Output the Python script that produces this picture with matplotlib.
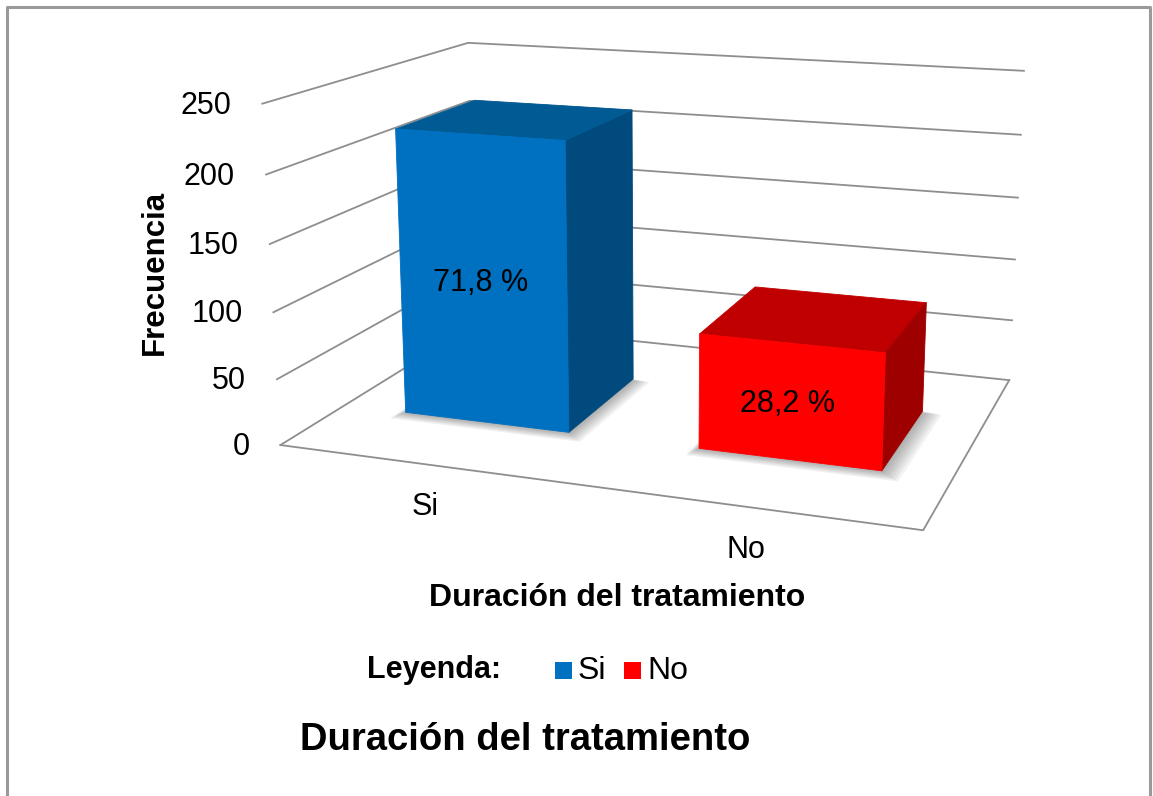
import numpy as np
import matplotlib
matplotlib.use('Agg')
import matplotlib.pyplot as plt
from matplotlib.patches import Rectangle
from matplotlib.lines import Line2D
from mpl_toolkits.mplot3d.art3d import Poly3DCollection

plt.rcParams['font.family'] = ['Liberation Sans', 'DejaVu Sans']

# ---------------- data ----------------
categories = ['Si', 'No']
frequencies = [219, 86]
percent_labels = ['71,8 %', '28,2 %']
z_ticks = [0, 50, 100, 150, 200, 250]
y_label = 'Frecuencia'
x_label = 'Duración del tratamiento'
title = 'Duración del tratamiento'
legend_title = 'Leyenda:'

front_colors = ['#0070C0', '#FF0000']
top_colors = ['#005A94', '#C00000']
side_colors = ['#004A7D', '#9E0000']
grid_color = '#8E8E8E'

W, H = 1153, 796
fig = plt.figure(figsize=(W / 100, H / 100), dpi=100)
ax = fig.add_axes([0, 0, 1, 1], projection='3d')

XMIN, XMAX = -0.5, len(categories) - 0.5
YMIN, YMAX = 0.0, 1.0
ZMAX = z_ticks[-1]
ax.set_xlim(XMIN, XMAX)
ax.set_ylim(YMIN, YMAX)
ax.set_zlim(0, ZMAX)
ax.set_axis_off()
ax.computed_zorder = False


def project(xs, ys, zs):
    M = ax.get_proj()
    vec = np.vstack([np.asarray(xs, float), np.asarray(ys, float),
                     np.asarray(zs, float), np.ones(len(xs))])
    r = M @ vec
    return r[0] / r[3], r[1] / r[3]


# ---- camera fit: frame corners of the chart box (pixels from top-left) ----
frame_pts = []   # (x, y, z, px, py)
left_front_px = [(281, 445), (277, 379), (273, 313), (269, 244), (266, 175), (263, 103)]
right_back_px = [(1008, 380), (1012, 321), (1015, 259), (1018, 197), (1021, 135), (1025, 71)]
for z, (a, b) in zip(z_ticks, left_front_px):
    frame_pts.append((XMIN, YMIN, z, a, b))
for z, (a, b) in zip(z_ticks, right_back_px):
    frame_pts.append((XMAX, YMAX, z, a, b))
frame_pts.append((XMAX, YMIN, 0, 923, 530))
frame_pts.append((XMIN, YMAX, ZMAX, 468, 43))
FP = np.array(frame_pts, float)
TX, TY = FP[:, 3], H - FP[:, 4]


def apply_params(p):
    elev, azim, lf, lby, lbz = p
    ax.view_init(elev=elev, azim=azim)
    ax.set_proj_type('persp', focal_length=float(np.exp(lf)))
    ax.set_box_aspect((1.0, float(np.exp(lby)), float(np.exp(lbz))))


def fit_affine():
    u, v = project(FP[:, 0], FP[:, 1], FP[:, 2])
    n = len(u)
    A = np.zeros((2 * n, 3))
    A[:n, 0] = u; A[:n, 1] = 1
    A[n:, 0] = v; A[n:, 2] = 1
    t = np.concatenate([TX, TY])
    sol, *_ = np.linalg.lstsq(A, t, rcond=None)
    res = A @ sol - t
    return sol, float(res @ res)


def cost(p):
    if np.exp(p[2]) < 0.08 or np.exp(p[2]) > 20:
        return 1e12
    apply_params(p)
    return fit_affine()[1]


def nelder_mead(f, x0, steps, iters=900):
    n = len(x0)
    pts = [np.array(x0, float)]
    for i in range(n):
        q = np.array(x0, float)
        q[i] += steps[i]
        pts.append(q)
    vals = [f(q) for q in pts]
    for _ in range(iters):
        order = np.argsort(vals)
        pts = [pts[i] for i in order]
        vals = [vals[i] for i in order]
        c = np.mean(pts[:-1], axis=0)
        xr = c + (c - pts[-1]); fr = f(xr)
        if fr < vals[0]:
            xe = c + 2 * (c - pts[-1]); fe = f(xe)
            if fe < fr:
                pts[-1], vals[-1] = xe, fe
            else:
                pts[-1], vals[-1] = xr, fr
        elif fr < vals[-2]:
            pts[-1], vals[-1] = xr, fr
        else:
            xc = c + 0.5 * (pts[-1] - c); fc = f(xc)
            if fc < vals[-1]:
                pts[-1], vals[-1] = xc, fc
            else:
                for i in range(1, len(pts)):
                    pts[i] = pts[0] + 0.5 * (pts[i] - pts[0])
                    vals[i] = f(pts[i])
    i = int(np.argmin(vals))
    return pts[i], vals[i]


best = None
for start in ([20, -70, np.log(0.3), np.log(0.6), np.log(0.55)],
              [15, -65, np.log(0.5), np.log(0.8), np.log(0.6)],
              [25, -75, np.log(0.2), np.log(0.5), np.log(0.5)]):
    p, c = nelder_mead(cost, start, [4, 4, 0.3, 0.2, 0.2])
    if best is None or c < best[1]:
        best = (p, c)
apply_params(best[0])
(s, tx, ty), _ = fit_affine()

# place the axes so that the projection lands on those pixels
fig.canvas.draw()
pos = ax.get_position()
O = np.array([pos.x0 * W, pos.y0 * H]); L = np.array([pos.width * W, pos.height * H])
d0 = ax.transData.transform([[0.0, 0.0], [1.0, 1.0]])
a_x = d0[1, 0] - d0[0, 0]
bvec = d0[0]
k = s / a_x
newO = np.array([tx, ty]) + k * (O - bvec)
ax.set_position([newO[0] / W, newO[1] / H, L[0] * k / W, L[1] * k / H])

# ---------------- walls, floor ----------------
for z in z_ticks:
    ax.plot([XMIN, XMIN, XMAX], [YMIN, YMAX, YMAX], [z, z, z],
            color=grid_color, lw=1.3, zorder=1)
ax.plot([XMIN, XMAX, XMAX], [YMIN, YMIN, YMAX], [0, 0, 0],
        color=grid_color, lw=1.3, zorder=1)

# ---------------- bars (with a soft floor shadow) ----------------
bar_w = 0.57
bar_shift = 0.005
y0, y1 = 0.29, 0.70
for i, v in enumerate(frequencies):
    x0, x1 = i + bar_shift - bar_w / 2, i + bar_shift + bar_w / 2
    for m in np.linspace(0.05, 0.005, 7):
        shadow = [(x0 - m * 0.4, y0 - m, 0), (x1 + m * 1.3, y0 - m, 0),
                  (x1 + m * 1.3, y1 - m * 0.2, 0), (x0 - m * 0.4, y1 - m * 0.2, 0)]
        ax.add_collection3d(Poly3DCollection([shadow], facecolors='#000000',
                                             edgecolors='none', alpha=0.05,
                                             zorder=2))
    front = [(x0, y0, 0), (x1, y0, 0), (x1, y0, v), (x0, y0, v)]
    top = [(x0, y0, v), (x1, y0, v), (x1, y1, v), (x0, y1, v)]
    side = [(x1, y0, 0), (x1, y1, 0), (x1, y1, v), (x1, y0, v)]
    cols = [side_colors[i], top_colors[i], front_colors[i]]
    pc = Poly3DCollection([side, top, front], facecolors=cols,
                          edgecolors=cols, linewidths=0.6, zorder=3 + i)
    ax.add_collection3d(pc)


def to_fig(xs, ys, zs):
    u, v = project(xs, ys, zs)
    d = ax.transData.transform(np.column_stack([u, v]))
    return d[:, 0] / W, d[:, 1] / H


fig.canvas.draw()
# tick labels on the side wall
fx, fy = to_fig([XMIN] * len(z_ticks), [YMIN] * len(z_ticks), z_ticks)
for z, a, b in zip(z_ticks, fx, fy):
    fig.text(a - 31 / W, b - 2 / H, str(z), ha='right', va='center', fontsize=22)
# percentage labels at centre of front faces
fx, fy = to_fig([i + bar_shift for i in range(len(categories))],
                [y0] * len(categories), [v / 2 for v in frequencies])
for lab, a, b in zip(percent_labels, fx, fy):
    fig.text(a - 2 / W, b - 2 / H, lab, ha='center', va='center', fontsize=22)
# category labels under the floor
fx, fy = to_fig(range(len(categories)), [YMIN] * len(categories), [0] * len(categories))
for cat, a, b in zip(categories, fx, fy):
    fig.text(a - 2 / W, b - 43 / H, cat, ha='center', va='center', fontsize=22)

# ---------------- 2D texts ----------------
fig.text(155 / W, 1 - 272 / H, y_label, rotation=90, ha='center',
         va='center', fontsize=22.5, fontweight='bold')
fig.text(617 / W, 1 - 598 / H, x_label, ha='center', va='center',
         fontsize=23, fontweight='bold')
fig.text(367 / W, 1 - 670 / H, legend_title, ha='left', va='center',
         fontsize=22, fontweight='bold')
legend_x = [555, 624]
for i, cat in enumerate(categories):
    fig.add_artist(Rectangle((legend_x[i] / W, 1 - 679 / H), 17 / W, 17 / H,
                             transform=fig.transFigure,
                             facecolor=front_colors[i], edgecolor='none'))
    fig.text((legend_x[i] + 23) / W, 1 - 671 / H, cat, ha='left',
             va='center', fontsize=23)
fig.text(525 / W, 1 - 740 / H, title, ha='center', va='center',
         fontsize=27.5, fontweight='bold')

# outer frame
frame_x = [7 / W, 7 / W, 1150 / W, 1150 / W]
frame_y = [0, 1 - 7 / H, 1 - 7 / H, 0]
fig.add_artist(Line2D(frame_x, frame_y, transform=fig.transFigure,
                      color='#9A9A9A', lw=2.2))

fig.savefig('out.png', dpi=100)
